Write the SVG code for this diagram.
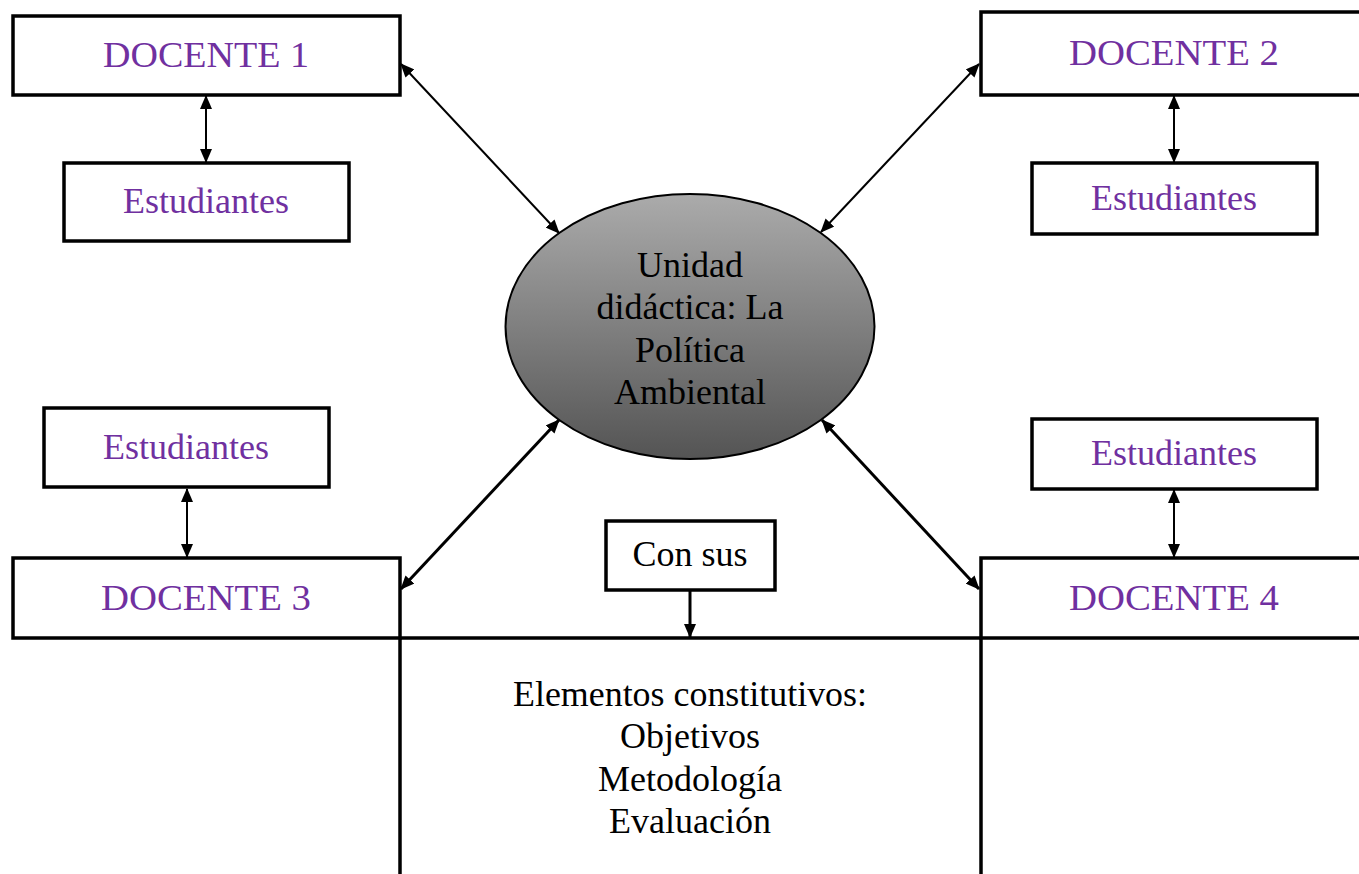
<svg xmlns="http://www.w3.org/2000/svg" width="1359" height="874" viewBox="0 0 1359 874">
<style>
.box{fill:#fff;stroke:#000;stroke-width:3.5}
.lbl{font-family:"Liberation Serif","Times New Roman",serif;font-size:36px;fill:#7030A0;text-anchor:middle}
.blk{font-family:"Liberation Serif","Times New Roman",serif;font-size:36px;fill:#000;text-anchor:middle}
.con{stroke:#000;fill:none;stroke-width:2;marker-start:url(#ah);marker-end:url(#ah)}
.con.thick{stroke-width:3}
.frame{stroke:#000;stroke-width:3.5;fill:none}
</style>
<defs>
<marker id="ah" markerUnits="userSpaceOnUse" markerWidth="14" markerHeight="12" refX="13" refY="6" orient="auto-start-reverse" viewBox="0 0 14 12">
<path d="M0,0 L14,6 L0,12 z" fill="#000"/>
</marker>
<marker id="ahd" markerUnits="userSpaceOnUse" markerWidth="14" markerHeight="12" refX="13" refY="6" orient="auto" viewBox="0 0 14 12">
<path d="M0,0 L14,6 L0,12 z" fill="#000"/>
</marker>
<linearGradient id="g" x1="0" y1="0" x2="0" y2="1">
<stop offset="0" stop-color="#ababab"/>
<stop offset="1" stop-color="#545454"/>
</linearGradient>
</defs>
<rect width="1359" height="874" fill="#fff"/>
<g id="elementos">
<line class="frame" x1="400" y1="638" x2="400" y2="874"/>
<line class="frame" x1="981" y1="638" x2="981" y2="874"/>
<line class="frame" x1="400" y1="638" x2="981" y2="638"/>
<text class="blk" x="690" y="706" textLength="354" lengthAdjust="spacingAndGlyphs">Elementos constitutivos:</text>
<text class="blk" x="690" y="748">Objetivos</text>
<text class="blk" x="690" y="791">Metodología</text>
<text class="blk" x="690" y="833">Evaluación</text>
</g>
<g id="docente1">
<rect class="box" x="13" y="16" width="387" height="79"/>
<text class="lbl" x="206" y="67" textLength="206" lengthAdjust="spacingAndGlyphs">DOCENTE 1</text>
</g>
<g id="estudiantes1">
<rect class="box" x="64" y="163" width="285" height="78"/>
<text class="lbl" x="206" y="213">Estudiantes</text>
</g>
<g id="docente2">
<rect class="box" x="981" y="12" width="390" height="83"/>
<text class="lbl" x="1174" y="65" textLength="210" lengthAdjust="spacingAndGlyphs">DOCENTE 2</text>
</g>
<g id="estudiantes2">
<rect class="box" x="1032" y="163" width="285" height="71"/>
<text class="lbl" x="1174" y="210">Estudiantes</text>
</g>
<g id="estudiantes3">
<rect class="box" x="44" y="408" width="285" height="79"/>
<text class="lbl" x="186" y="459">Estudiantes</text>
</g>
<g id="docente3">
<rect class="box" x="13" y="558" width="387" height="80"/>
<text class="lbl" x="206" y="610" textLength="210" lengthAdjust="spacingAndGlyphs">DOCENTE 3</text>
</g>
<g id="estudiantes4">
<rect class="box" x="1032" y="419" width="285" height="70"/>
<text class="lbl" x="1174" y="465">Estudiantes</text>
</g>
<g id="docente4">
<rect class="box" x="981" y="558" width="390" height="80"/>
<text class="lbl" x="1174" y="610" textLength="210" lengthAdjust="spacingAndGlyphs">DOCENTE 4</text>
</g>
<g id="consus">
<rect class="box" x="606" y="521" width="169" height="69"/>
<text class="blk" x="690" y="566">Con sus</text>
</g>
<g id="unidad">
<ellipse cx="690" cy="326.5" rx="184.5" ry="132.5" fill="url(#g)" stroke="#000" stroke-width="2"/>
<text class="blk" x="690" y="277">Unidad</text>
<text class="blk" x="690" y="319">didáctica: La</text>
<text class="blk" x="690" y="362">Política</text>
<text class="blk" x="690" y="404">Ambiental</text>
</g>
<g id="connectors">
<line class="con" x1="206" y1="96" x2="206" y2="162"/>
<line class="con" x1="1174" y1="96" x2="1174" y2="162"/>
<line class="con" x1="187" y1="489" x2="187" y2="557"/>
<line class="con" x1="1174" y1="490" x2="1174" y2="557"/>
<line class="con" x1="401" y1="64" x2="559" y2="233"/>
<line class="con" x1="979" y1="64" x2="821" y2="232"/>
<line class="con thick" x1="559" y1="420" x2="401" y2="589"/>
<line class="con thick" x1="822" y1="420" x2="979" y2="589"/>
<line x1="690" y1="590" x2="690" y2="637" stroke="#000" stroke-width="3" marker-end="url(#ahd)"/>
</g>
</svg>
